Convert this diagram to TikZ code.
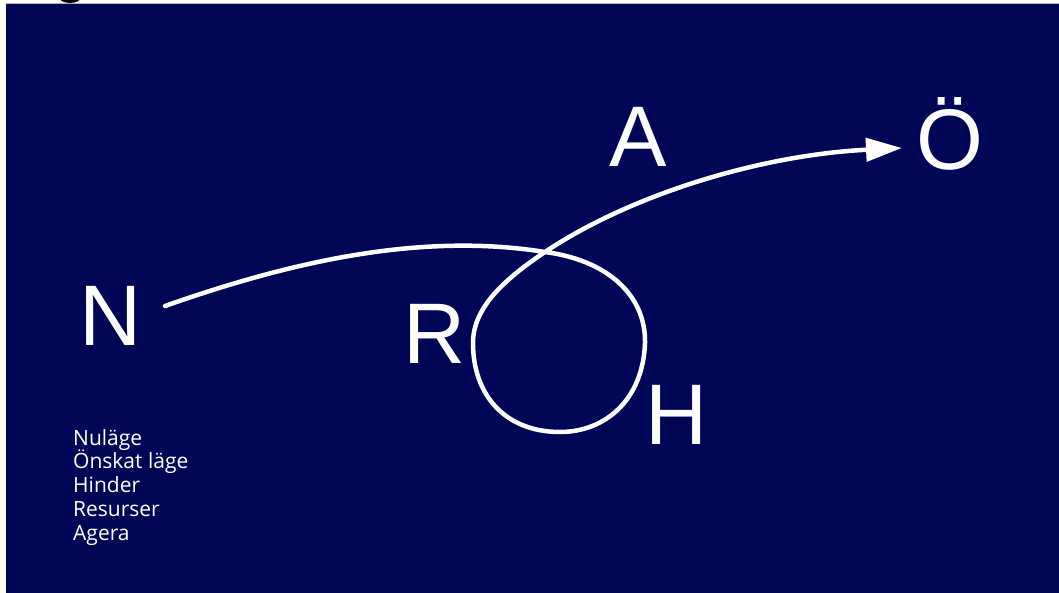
\documentclass[tikz,border=0pt]{standalone}
\usepackage{fontspec}
\setmainfont{Liberation Sans}
\newfontfamily\opensans{Open Sans}
\usetikzlibrary{arrows.meta}
\definecolor{navy}{RGB}{0,6,86}
\begin{document}
\begin{tikzpicture}[x=1pt,y=-1pt,
  bigletter/.style={text=white,inner sep=0pt,anchor=base,font=\fontsize{86}{86}\selectfont},
  smalltext/.style={text=white,inner sep=0pt,anchor=base west,font=\opensans\fontsize{21}{24}\selectfont},
  loopline/.style={draw=white,line width=4.5pt,line cap=round,line join=round}]
\useasboundingbox (0,0) rectangle (1059,593);
\fill[white] (0,0) rectangle (1059,593);
\fill[navy] (6,4) rectangle (1059,593);
\draw[gray!60,line width=1pt] (6,3.5) -- (1059,3.5);
\begin{scope}
\clip (0,0) rectangle (1059,3);
\fill[black] (70,-3) ellipse (11pt and 6pt);
\end{scope}
% letters
\node[bigletter] (N) at (111,345) {N};
\node[bigletter] (A) at (638,167) {A};
\node[bigletter] (O) at (950,170) {Ö};
\node[bigletter] (R) at (435,363) {R};
\node[bigletter] (H) at (677,444) {H};
% legend
\node[smalltext] (l1) at (73,445) {Nuläge};
\node[smalltext] (l2) at (73,468.75) {Önskat läge};
\node[smalltext] (l3) at (73,492.5) {Hinder};
\node[smalltext] (l4) at (73,516.25) {Resurser};
\node[smalltext] (l5) at (73,540) {Agera};
% path
\coordinate (s) at (165,306);
\coordinate (x) at (545,252);
\coordinate (e) at (902,148);
\draw[loopline,-{Triangle[length=36pt,width=23pt]}]
  (s) .. controls (290,262) and (420,232) .. (x)
      .. controls (607,260) and (646,295) .. (645,343)
      .. controls (643,400) and (605,432) .. (560,432)
      .. controls (505,432) and (473,395) .. (473,343)
      .. controls (473,310) and (500,282) .. (x)
      .. controls (630,195) and (760,155) .. (e);
\end{tikzpicture}
\end{document}
